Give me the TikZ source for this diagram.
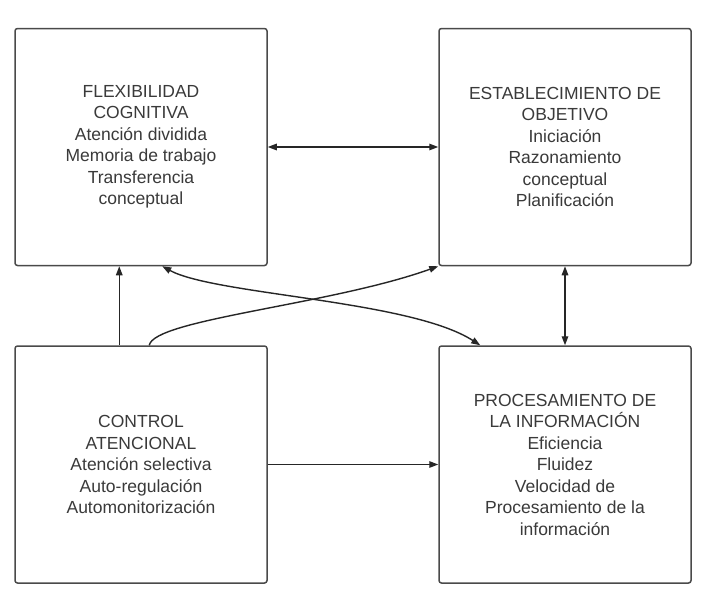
\documentclass[tikz,border=0pt]{standalone}
\usepackage{fontspec}
\setmainfont{Liberation Sans}
\usetikzlibrary{arrows.meta}
\definecolor{boxline}{HTML}{4A4A4A}
\definecolor{boxtext}{HTML}{3A3A3A}
\tikzset{
  block/.style={draw=boxline, line width=1.5pt, rounded corners=2.5pt,
    minimum width=252pt, minimum height=237pt, inner sep=0pt,
    align=center, text=boxtext,
    font=\fontsize{17.5}{21.5}\selectfont},
  link/.style={line width=1.4pt, draw=black!85,
    arrows={-Triangle[length=9pt,width=6.5pt]}},
  biglink/.style={link, arrows={Triangle[length=9pt,width=6.5pt]-Triangle[length=9pt,width=6.5pt]}}
}
\begin{document}
\begin{tikzpicture}[x=1pt,y=-1pt]
  \useasboundingbox[fill=white] (0,0) rectangle (719,603);

  \node[block] (flex) at (141,147)
    {FLEXIBILIDAD\\COGNITIVA\\Atención dividida\\Memoria de trabajo\\Transferencia\\conceptual};
  \node[block] (obj) at (565,147)
    {ESTABLECIMIENTO DE\\OBJETIVO\\Iniciación\\Razonamiento\\conceptual\\Planificación};
  \node[block] (ctrl) at (141,464.5)
    {CONTROL\\ATENCIONAL\\Atención selectiva\\Auto-regulación\\Automonitorización};
  \node[block] (proc) at (565,464.5)
    {PROCESAMIENTO DE\\LA INFORMACIÓN\\Eficiencia\\Fluidez\\Velocidad de\\Procesamiento de la\\información};

  % straight connectors
  \draw[biglink] (flex.east) -- (obj.west);
  \draw[biglink] (obj.south) -- (proc.north);
  \draw[link] (ctrl.east) -- (proc.west);
  \draw[link] ([xshift=105pt]ctrl.north west) -- ([xshift=105pt]flex.south west);

  % curved connectors
  \draw[link] ([xshift=135pt]ctrl.north west)
    .. controls +(5,-26) and (330,305) .. (obj.south west);
  \draw[biglink] ([xshift=148pt]flex.south west)
    .. controls (215,295) and (410,300) .. ([xshift=42pt]proc.north west);
\end{tikzpicture}
\end{document}
